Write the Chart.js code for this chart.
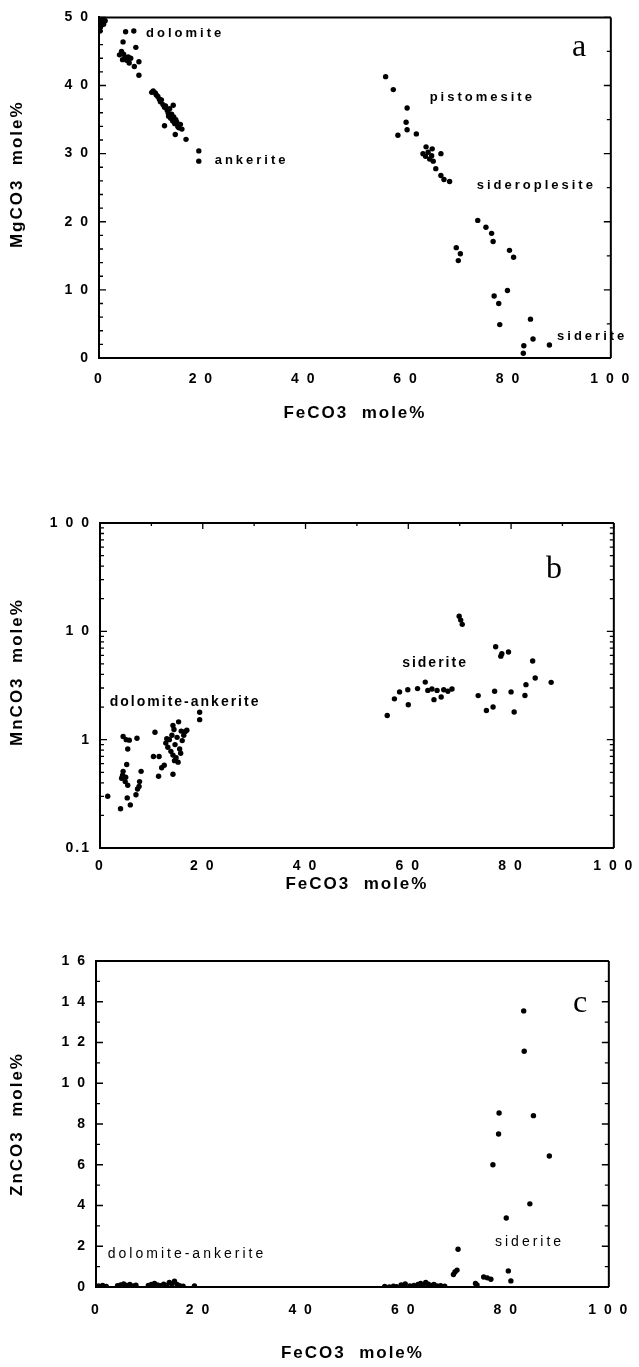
<!DOCTYPE html>
<html>
<head>
<meta charset="utf-8">
<script src="https://cdn.jsdelivr.net/npm/chart.js@4/dist/chart.umd.min.js"></script>
<style>
  html, body { margin: 0; padding: 0; background: #fff; }
  body { width: 639px; height: 1367px; position: relative; overflow: hidden; }
  canvas { position: absolute; left: 0; }
</style>
</head>
<body>
<canvas id="chartA" width="639" height="440" style="top:0px"></canvas>
<canvas id="chartB" width="639" height="420" style="top:480px"></canvas>
<canvas id="chartC" width="639" height="447" style="top:920px"></canvas>
<script>
// ---------- Panel a: MgCO3 vs FeCO3 (mole%) ----------
const feA = [0.3, 0.7, 1.2, 0.4, 0.9, 0.3, 0.2,
  5.2, 6.8, 4.7, 4.0, 4.4, 4.8, 5.1, 5.4, 5.7, 5.9, 4.6, 6.2, 7.2, 7.8, 6.9, 7.8,
  10.3, 10.6, 11.0, 11.2, 11.5, 11.8, 12.0, 12.2, 12.5, 12.8, 13.0, 13.3, 13.5, 13.6, 13.8, 14.0,
  14.2, 14.4, 14.6, 14.8, 15.0, 15.2, 15.4, 15.6, 15.9, 16.2, 14.5, 12.8, 14.9, 17.0, 19.5, 19.5,
  56.0, 57.5, 60.2, 60.0, 60.2, 58.4, 62.0, 63.9, 65.1, 66.8, 63.3, 63.8, 64.3, 64.6, 65.0, 65.3,
  65.8, 66.8, 67.4, 68.5, 74.0, 75.6, 76.7, 77.0, 69.8, 70.6, 70.2, 80.2, 81.0, 77.2, 78.1, 79.8,
  78.3, 84.3, 84.8, 83.0, 82.9, 88.0];
const mgA = [49.8, 49.6, 49.5, 49.2, 49.0, 48.6, 48.0,
  47.9, 48.0, 46.4, 44.5, 45.0, 44.6, 44.1, 43.7, 44.2, 43.3, 43.8, 44.0, 45.6, 43.5, 42.8, 41.5,
  39.0, 39.2, 38.9, 38.6, 38.4, 38.0, 37.6, 37.9, 37.2, 36.8, 37.0, 36.4, 36.0, 35.5, 36.6, 35.2,
  35.8, 34.8, 35.4, 34.4, 35.0, 34.6, 34.0, 33.8, 34.3, 33.6, 37.1, 34.1, 32.8, 32.1, 30.4, 28.9,
  41.3, 39.4, 36.7, 34.6, 33.5, 32.7, 32.9, 31.0, 30.7, 30.0, 30.0, 29.6, 30.2, 29.2, 29.7, 28.9,
  27.8, 26.8, 26.2, 25.9, 20.2, 19.2, 18.3, 17.1, 16.2, 15.3, 14.3, 15.8, 14.8, 9.1, 8.0, 9.9,
  4.9, 5.7, 2.8, 1.8, 0.7, 1.9];

// ---------- Panel b: MnCO3 vs FeCO3 (mole%, log) ----------
const feB = [1.5, 4.0, 5.3, 5.9, 4.5, 5.1, 5.7, 7.2, 5.4, 5.2, 4.5, 4.2, 4.9, 5.4, 4.4, 5.0,
  8.0, 7.7, 7.3, 7.0, 7.6, 10.7, 10.4, 11.5, 12.5, 12.0, 11.4, 14.2,
  12.8, 13.2, 13.5, 13.8, 14.0, 14.2, 14.4, 14.6, 14.8, 15.0, 15.3, 15.5, 15.2, 15.8, 16.0, 16.3,
  16.6, 16.9, 14.5, 13.0, 15.7, 14.2, 19.4, 19.4,
  69.9, 70.2, 70.5, 55.9, 57.3, 58.3, 59.9, 60.0, 61.8, 63.3, 63.8, 64.6, 65.0, 65.6, 66.4, 66.9,
  67.7, 68.5, 73.6, 75.2, 76.5, 76.8, 77.0, 78.0, 78.2, 79.5, 80.0, 80.6, 82.7, 82.9, 84.7, 84.2, 87.8];
const mnB = [0.30, 0.23, 0.29, 0.25, 1.07, 1.00, 0.99, 1.03, 0.82, 0.59, 0.51, 0.44, 0.41, 0.38, 0.47, 0.45,
  0.51, 0.41, 0.35, 0.31, 0.37, 1.17, 0.70, 0.70, 0.58, 0.55, 0.46, 0.48,
  0.93, 0.85, 1.00, 0.78, 1.10, 0.72, 1.24, 0.90, 0.68, 1.05, 1.46, 0.82, 0.62, 1.20, 0.98, 1.10,
  1.19, 1.22, 0.64, 1.02, 0.75, 1.35, 1.79, 1.53,
  13.8, 12.7, 11.6, 1.67, 2.38, 2.76, 2.89, 2.10, 2.96, 3.40, 2.85, 2.94, 2.34, 2.85, 2.48, 2.89,
  2.80, 2.94, 2.55, 1.86, 2.00, 2.80, 7.20, 5.90, 6.20, 6.45, 2.76, 1.80, 2.56, 3.22, 3.71, 5.33, 3.38];

// ---------- Panel c: ZnCO3 vs FeCO3 (mole%) ----------
const feC = [0.5, 1.3, 2.0, 4.2, 4.8, 5.4, 6.0, 6.6, 7.2, 7.8, 10.2, 10.8, 11.4, 12.0, 12.6, 13.2,
  13.8, 14.3, 14.8, 15.3, 15.8, 16.3, 17.0, 19.2,
  56.3, 57.2, 58.0, 58.6, 59.5, 60.3, 61.2, 62.0, 62.8, 63.3, 63.8, 64.3, 64.8, 65.3, 65.9, 66.5,
  67.2, 68.0,
  83.4, 83.5, 78.6, 78.5, 77.4, 85.3, 88.4, 84.6, 80.0, 70.6, 70.0, 70.4, 69.7, 80.4, 80.9, 75.6,
  76.3, 77.0, 74.0, 74.3];
const znC = [0.05, 0.08, 0.03, 0.06, 0.10, 0.15, 0.08, 0.12, 0.05, 0.09, 0.07, 0.12, 0.18, 0.10, 0.06, 0.14,
  0.08, 0.22, 0.16, 0.28, 0.12, 0.06, 0.04, 0.05,
  0.03, 0.00, 0.04, 0.02, 0.10, 0.15, 0.05, 0.08, 0.12, 0.18, 0.10, 0.22, 0.14, 0.08, 0.12, 0.05,
  0.06, 0.04,
  13.55, 11.57, 8.54, 7.51, 6.00, 8.41, 6.43, 4.08, 3.39, 1.85, 0.74, 0.83, 0.61, 0.79, 0.30, 0.49,
  0.45, 0.38, 0.17, 0.10];

// ---------- Tick labels ----------
const feTicks = [0, 20, 40, 60, 80, 100];
const mgTicks = [0, 10, 20, 30, 40, 50];
const mnTicks = [0.1, 1, 10, 100];
const znTicks = [0, 2, 4, 6, 8, 10, 12, 14, 16];

// ---------- Field labels written inside the plots ----------
const notesA = [
  { text: 'dolomite', x: 9.2, y: 47.7 },
  { text: 'ankerite', x: 22.6, y: 29.0 },
  { text: 'pistomesite', x: 64.6, y: 38.3 },
  { text: 'sideroplesite', x: 73.8, y: 25.4 },
  { text: 'siderite', x: 89.5, y: 3.2 }
];
const notesB = [
  { text: 'dolomite-ankerite', x: 1.9, y: 2.24 },
  { text: 'siderite', x: 58.8, y: 5.14 }
];
const notesC = [
  { text: 'dolomite-ankerite', x: 2.3, y: 1.6 },
  { text: 'siderite', x: 77.8, y: 2.18 }
];

const SANS = '"Liberation Sans", Arial, Helvetica, sans-serif';
const SERIF = '"Liberation Serif", "DejaVu Serif", serif';
const tickFont = { family: SANS, size: 14, weight: 'bold' };
const titleFont = { family: SANS, size: 17, weight: 'bold' };

// digits printed with a gap between them, as in "2 0"
function spaced(v) {
  if (v < 1 && v > 0) return String(v);
  return String(v).split('').join(' ');
}
function range(a, b, step) {
  const out = [];
  for (let v = a; v <= b + 1e-9; v += step) out.push(+v.toFixed(6));
  return out;
}
function logMinors(lo, hi) {
  const out = [];
  for (let d = lo; d < hi; d *= 10) for (let k = 1; k < 10; k++) out.push(+(d * k).toPrecision(6));
  out.push(hi);
  return out;
}

Chart.defaults.font.family = SANS;
Chart.defaults.color = '#000';

const letterSpacing = {
  id: 'letterSpacing',
  beforeDraw(chart) { chart.ctx.letterSpacing = '2px'; }
};

// Frame on top/right plus inward tick marks and in-plot labels
function framePlugin(spec) {
  return {
    id: 'frame',
    afterDraw(chart) {
      const { ctx, chartArea: a, scales: { x, y } } = chart;
      ctx.save();
      ctx.strokeStyle = '#000';
      ctx.lineWidth = 2;
      ctx.beginPath();
      ctx.moveTo(a.left, a.top); ctx.lineTo(a.right, a.top);
      ctx.moveTo(a.right, a.top); ctx.lineTo(a.right, a.bottom);
      ctx.stroke();
      ctx.lineWidth = 1.3;
      ctx.beginPath();
      const yTick = (vals, len, side) => vals.forEach(v => {
        const py = y.getPixelForValue(v);
        if (side === 'left') { ctx.moveTo(a.left, py); ctx.lineTo(a.left + len, py); }
        else { ctx.moveTo(a.right, py); ctx.lineTo(a.right - len, py); }
      });
      const xTick = (vals, len) => vals.forEach(v => {
        const px = x.getPixelForValue(v);
        ctx.moveTo(px, a.top); ctx.lineTo(px, a.top + len);
      });
      if (spec.leftMajor) yTick(spec.leftMajor, 7, 'left');
      if (spec.leftMinor) yTick(spec.leftMinor, 4, 'left');
      if (spec.rightMajor) yTick(spec.rightMajor, 7, 'right');
      if (spec.rightMinor) yTick(spec.rightMinor, 4, 'right');
      if (spec.topMajor) xTick(spec.topMajor, 6);
      if (spec.topMinor) xTick(spec.topMinor, 3);
      ctx.stroke();

      ctx.fillStyle = '#000';
      ctx.textBaseline = 'middle';
      ctx.textAlign = 'left';
      ctx.font = spec.noteFont;
      ctx.letterSpacing = spec.noteSpacing;
      spec.notes.forEach(n => {
        ctx.fillText(n.text, x.getPixelForValue(n.x), y.getPixelForValue(n.y));
      });
      ctx.font = '32px ' + SERIF;
      ctx.letterSpacing = '0px';
      ctx.fillText(spec.panel.text, x.getPixelForValue(spec.panel.x), y.getPixelForValue(spec.panel.y));
      ctx.restore();
    }
  };
}

function makeChart(id, feVals, yVals, yScale, box, spec) {
  const points = feVals.map((v, i) => ({ x: v, y: yVals[i] }));
  return new Chart(document.getElementById(id), {
    type: 'scatter',
    data: {
      datasets: [{
        data: points,
        pointRadius: 2.7,
        pointHoverRadius: 2.7,
        pointBackgroundColor: '#000',
        pointBorderWidth: 0,
        showLine: false
      }]
    },
    options: {
      responsive: false,
      animation: false,
      devicePixelRatio: 1,
      events: [],
      layout: { padding: { top: box.top, right: box.right, left: 0, bottom: 0 } },
      plugins: { legend: { display: false }, tooltip: { enabled: false } },
      scales: {
        x: {
          type: 'linear', min: 0, max: 100,
          afterFit(s) { s.height = box.xHeight; },
          afterBuildTicks(s) { s.ticks = feTicks.map(v => ({ value: v })); },
          ticks: { callback: spaced, font: tickFont, color: '#000', padding: box.xTickPad, maxRotation: 0, autoSkip: false },
          grid: { display: false, drawTicks: false },
          border: { display: true, color: '#000', width: 2 },
          title: { display: true, text: 'FeCO3  mole%', font: titleFont, color: '#000', padding: { top: 0, bottom: box.xTitlePad } }
        },
        y: Object.assign({
          afterFit(s) { s.width = box.left; },
          ticks: { callback: spaced, font: tickFont, color: '#000', padding: 9, autoSkip: false },
          grid: { display: false, drawTicks: false },
          border: { display: true, color: '#000', width: 2 },
        }, yScale)
      }
    },
    plugins: [letterSpacing, framePlugin(spec)]
  });
}

makeChart('chartA', feA, mgA, {
  type: 'linear', min: 0, max: 50,
  afterBuildTicks(s) { s.ticks = mgTicks.map(v => ({ value: v })); },
  title: { display: true, text: '    MgCO3  mole%', font: titleFont, color: '#000', padding: { top: 7, bottom: 0 } }
}, { top: 13, right: 17, left: 99, xHeight: 82, xTickPad: 12.6, xTitlePad: 16 }, {
  leftMajor: mgTicks, leftMinor: range(0, 50, 2),
  rightMajor: mgTicks, rightMinor: range(0, 50, 5),
  notes: notesA, noteFont: 'bold 13px ' + SANS, noteSpacing: '3px',
  panel: { text: 'a', x: 92.4, y: 45.5 }
});

makeChart('chartB', feB, mnB, {
  type: 'logarithmic', min: 0.1, max: 100,
  afterBuildTicks(s) { s.ticks = mnTicks.map(v => ({ value: v })); },
  title: { display: true, text: '    MnCO3  mole%', font: titleFont, color: '#000', padding: { top: 7, bottom: 0 } }
}, { top: 43, right: 17, left: 100, xHeight: 52, xTickPad: 9.6, xTitlePad: 5 }, {
  leftMajor: mnTicks, leftMinor: logMinors(0.1, 100),
  rightMajor: mnTicks, rightMinor: logMinors(0.1, 100),
  topMajor: feTicks, topMinor: range(0, 100, 10),
  notes: notesB, noteFont: 'bold 14px ' + SANS, noteSpacing: '2px',
  panel: { text: 'b', x: 86.8, y: 37.2 }
});

makeChart('chartC', feC, znC, {
  type: 'linear', min: 0, max: 16,
  afterBuildTicks(s) { s.ticks = znTicks.map(v => ({ value: v })); },
  title: { display: true, text: 'ZnCO3  mole%', font: titleFont, color: '#000', padding: { top: 7, bottom: 0 } }
}, { top: 41, right: 26, left: 96, xHeight: 80, xTickPad: 14.6, xTitlePad: 3 }, {
  leftMajor: znTicks, leftMinor: range(0, 16, 1),
  rightMajor: znTicks, rightMinor: range(0, 16, 1),
  notes: notesC, noteFont: '14px ' + SANS, noteSpacing: '3px',
  panel: { text: 'c', x: 93.0, y: 13.9 }
});
</script>
</body>
</html>
